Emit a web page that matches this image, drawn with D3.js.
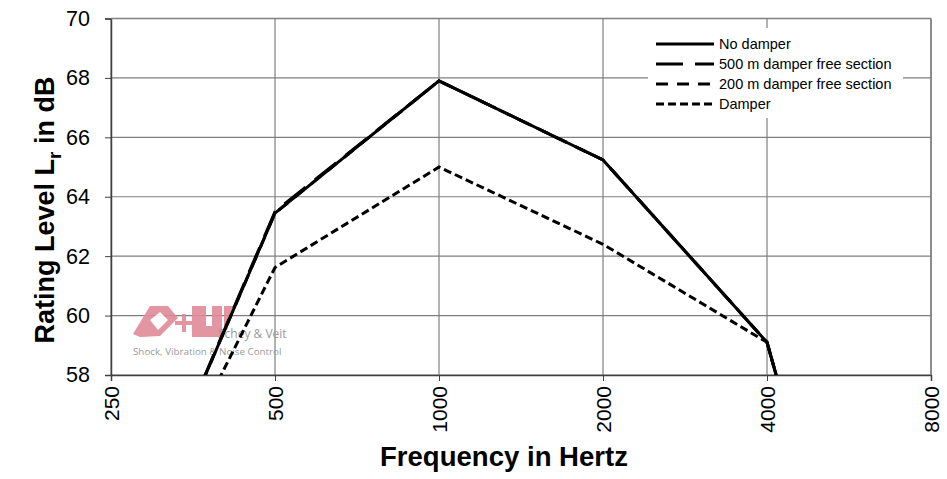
<!DOCTYPE html>
<html><head><meta charset="utf-8">
<script src="https://cdn.jsdelivr.net/npm/d3@7"></script>
<style>html,body{margin:0;padding:0;background:#fff;}svg{display:block;}</style>
</head><body>
<svg id="chart" width="947" height="479"></svg>
<script>
const frequencies = [250, 500, 1000, 2000, 4000, 8000];
const xTickLabels = ["250", "500", "1000", "2000", "4000", "8000"];
const yTicks = [58, 60, 62, 64, 66, 68, 70];
const noDamper = [50.6, 63.45, 67.9, 65.24, 59.1, 39.4];
const damperFree500 = [50.6, 63.5, 67.9, 65.24, 59.1, 39.4];
const damperFree200 = [50.6, 63.45, 67.9, 65.24, 59.1, 39.4];
const damper = [50.6, 61.62, 65.0, 62.4, 59.1, 39.4];
const seriesNames = ["No damper", "500 m damper free section", "200 m damper free section", "Damper"];

const seriesData = [noDamper, damperFree500, damperFree200, damper];
const dashes = [null, "27,12", "12,9", "8,4"];

const svg = d3.select("#chart");
const L = 111, R = 931, T = 18.5, B = 375;
const x = d3.scaleLog().base(2).domain([250, 8000]).range([L, R]);
const y = d3.scaleLinear().domain([58, 70]).range([B, T]);

svg.append("defs").append("clipPath").attr("id", "clip")
  .append("rect").attr("x", L).attr("y", T).attr("width", R - L).attr("height", B - T);

// grid
const grid = svg.append("g");
grid.selectAll(".gy").data(yTicks).join("line")
  .attr("x1", L).attr("x2", R).attr("y1", d => y(d)).attr("y2", d => y(d))
  .attr("stroke", "#7f7f7f").attr("stroke-width", 1.2);
grid.selectAll(".gx").data(frequencies).join("line")
  .attr("x1", d => x(d)).attr("x2", d => x(d)).attr("y1", T).attr("y2", B)
  .attr("stroke", "#7f7f7f").attr("stroke-width", 1.2);

// watermark logo
const logo = svg.append("g").attr("fill", "#e28a98").attr("opacity", 0.9);
logo.append("path").attr("d", "M133,334 L150,306 L168,306 L178,318 L170,326 L160,336 L140,337 Z");
logo.append("path").attr("d", "M150,320 L160,312 L168,320 L158,330 Z").attr("fill", "#fff");
logo.append("path").attr("d", "M182,314 h4 v7 h7 v4 h-7 v7 h-4 v-7 h-7 v-4 h7 Z");
logo.append("path").attr("d", "M192,306 h14 v20 h6 v-20 h10 v31 h-30 Z");
logo.append("path").attr("d", "M224,306 h11 l-8,24 h-3 Z");
svg.append("text").attr("x", 218).attr("y", 338).attr("font-family", "Open Sans, Arial, sans-serif")
  .attr("font-size", 12).attr("fill", "#999").text("Schey & Veit");
svg.append("text").attr("x", 133).attr("y", 355).attr("font-family", "Open Sans, Arial, sans-serif")
  .attr("font-size", 9.8).attr("fill", "#999").text("Shock, Vibration & Noise Control");

// axes
const yAxis = svg.append("g").attr("transform", `translate(${L},0)`)
  .call(d3.axisLeft(y).tickValues(yTicks).tickSize(6).tickPadding(15).tickFormat(d3.format("d")));
yAxis.select(".domain").attr("stroke", "#404040").attr("stroke-width", 1.5);
yAxis.selectAll(".tick line").attr("stroke", "#404040");
yAxis.selectAll("text").attr("font-family", "Liberation Sans, Arial, sans-serif")
  .attr("font-size", 21.5).attr("fill", "#000");

const xAxis = svg.append("g").attr("transform", `translate(0,${B})`)
  .call(d3.axisBottom(x).tickValues(frequencies).tickSize(6)
    .tickFormat((d, i) => xTickLabels[i]));
xAxis.select(".domain").attr("stroke", "#404040").attr("stroke-width", 1.5);
xAxis.selectAll(".tick line").attr("stroke", "#404040");
xAxis.selectAll("text").attr("font-family", "Liberation Sans, Arial, sans-serif")
  .attr("font-size", 21).attr("fill", "#000")
  .attr("transform", "rotate(-90)").attr("text-anchor", "end")
  .attr("x", -11).attr("y", 0).attr("dy", "0.36em");

// right / top border
svg.append("line").attr("x1", R).attr("x2", R).attr("y1", T).attr("y2", B)
  .attr("stroke", "#7f7f7f").attr("stroke-width", 1.5);
svg.append("line").attr("x1", L).attr("x2", R).attr("y1", T).attr("y2", T)
  .attr("stroke", "#7f7f7f").attr("stroke-width", 1.5);

// lines
const line = d3.line().x((d, i) => x(frequencies[i])).y(d => y(d));
const lines = svg.append("g").attr("clip-path", "url(#clip)");
[2, 1, 0, 3].forEach(k => {
  lines.append("path").datum(seriesData[k]).attr("d", line)
    .attr("fill", "none").attr("stroke", "#000").attr("stroke-width", 3)
    .attr("stroke-dasharray", dashes[k]);
});

// legend
const lg = svg.append("g");
lg.append("rect").attr("x", 648).attr("y", 28).attr("width", 255).attr("height", 90).attr("fill", "#fff");
seriesNames.forEach((n, i) => {
  const yy = 44 + i * 20;
  lg.append("line").attr("x1", 656).attr("x2", 714).attr("y1", yy).attr("y2", yy)
    .attr("stroke", "#000").attr("stroke-width", 3).attr("stroke-dasharray", dashes[i]);
  lg.append("text").attr("x", 719).attr("y", yy).attr("dy", "0.35em")
    .attr("font-family", "Liberation Sans, Arial, sans-serif").attr("font-size", 14.5)
    .attr("fill", "#000").text(n);
});

// axis titles
const yt = svg.append("text").attr("transform", "translate(54,210) rotate(-90)")
  .attr("text-anchor", "middle").attr("font-family", "Liberation Sans, Arial, sans-serif")
  .attr("font-weight", "bold").attr("font-size", 27).attr("fill", "#000");
yt.append("tspan").text("Rating Level L");
yt.append("tspan").attr("font-size", 19).attr("dy", 7).text("r");
yt.append("tspan").attr("dy", -7).text(" in dB");

svg.append("text").attr("x", 504).attr("y", 466).attr("text-anchor", "middle")
  .attr("font-family", "Liberation Sans, Arial, sans-serif").attr("font-weight", "bold")
  .attr("font-size", 28).attr("fill", "#000")
  .attr("textLength", 248).attr("lengthAdjust", "spacingAndGlyphs")
  .text("Frequency in Hertz");
</script>
</body></html>
